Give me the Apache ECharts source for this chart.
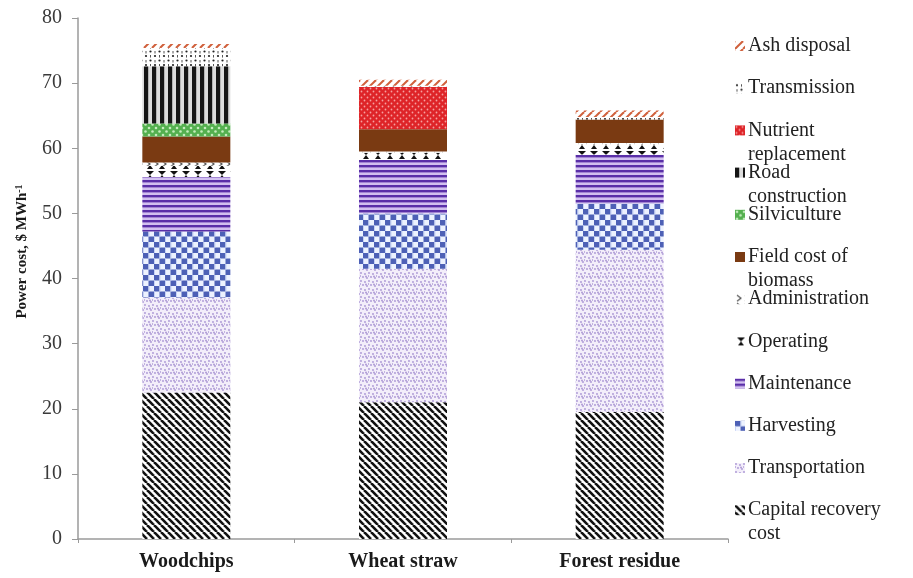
<!DOCTYPE html>
<html><head><meta charset="utf-8">
<script src="https://cdn.jsdelivr.net/npm/echarts@6/dist/echarts.min.js"></script>
<style>html,body{margin:0;padding:0;background:#fff}#c{width:913px;height:578px}</style>
</head><body><div id="c"></div>
<script>
// ---- data ----
var categories = ['Woodchips', 'Wheat straw', 'Forest residue'];
var capitalRecovery = [22.5, 21.0, 19.5];
var transportation  = [14.6, 20.5, 24.9];
var harvesting      = [10.1, 8.5, 7.1];
var maintenance     = [8.4, 8.2, 7.5];
var operating       = [1.7, 1.1, 1.6];
var administration  = [0.5, 0.2, 0.2];
var fieldCost       = [4.0, 3.4, 3.6];
var silviculture    = [2.0, 0, 0];
var roadConstruction= [8.8, 0, 0];
var nutrient        = [0, 6.5, 0];
var transmission    = [2.8, 0.2, 0.4];
var ashDisposal     = [0.6, 0.9, 1.0];
var yTicks = [0, 10, 20, 30, 40, 50, 60, 70, 80];

var seriesNames = ['Capital recovery cost', 'Transportation', 'Harvesting', 'Maintenance', 'Operating',
  'Administration', 'Field cost of biomass', 'Silviculture', 'Road construction',
  'Nutrient replacement', 'Transmission', 'Ash disposal'];
var seriesValues = [capitalRecovery, transportation, harvesting, maintenance, operating,
  administration, fieldCost, silviculture, roadConstruction, nutrient, transmission, ashDisposal];
var legendLabels = ['Capital recovery\ncost', 'Transportation', 'Harvesting', 'Maintenance', 'Operating',
  'Administration', 'Field cost of\nbiomass', 'Silviculture', 'Road\nconstruction',
  'Nutrient\nreplacement', 'Transmission', 'Ash disposal'];

// ---- pattern tiles ----
function tile(w, h, bg, draw) {
  var c = document.createElement('canvas'); c.width = w; c.height = h;
  var g = c.getContext('2d');
  if (bg) { g.fillStyle = bg; g.fillRect(0, 0, w, h); }
  draw(g, w, h);
  return { image: c, repeat: 'repeat' };
}
function diag(g, s, col, lw, dir) {
  g.strokeStyle = col; g.lineWidth = lw;
  for (var k = -1; k <= 1; k++) {
    g.beginPath();
    if (dir > 0) { g.moveTo(k * s, 0); g.lineTo(k * s + s, s); }
    else { g.moveTo(k * s, s); g.lineTo(k * s + s, 0); }
    g.stroke();
  }
}
function dots(g, col, pts, r) {
  g.fillStyle = col;
  pts.forEach(function (p) { g.beginPath(); g.arc(p[0], p[1], r, 0, Math.PI * 2); g.fill(); });
}
var patterns = [
  tile(7, 7, '#ffffff', function (g, w) { diag(g, w, '#111', 2.6, 1); }),
  tile(8, 8, '#f3eefa', function (g) { dots(g, '#a994d2', [[1,1],[5,2],[3,5],[7,6],[0,4],[6,4.5]], 0.9); }),
  tile(11, 11, '#edf2ff', function (g) { g.fillStyle = '#4d60b6'; g.fillRect(0,0,5.5,5.5); g.fillRect(5.5,5.5,5.5,5.5); g.fillStyle='#c7d3f5'; g.fillRect(5.5,0,1,5.5); g.fillRect(0,5.5,1,5.5); }),
  tile(8, 5, '#d2c0f0', function (g) { g.fillStyle = '#5a2fa8'; g.fillRect(0, 0, 8, 2.4); }),
  tile(12, 10, '#ffffff', function (g) { g.fillStyle = '#111'; g.beginPath(); g.moveTo(2,1); g.lineTo(10,1); g.lineTo(6,5); g.closePath(); g.fill(); g.beginPath(); g.moveTo(6,5); g.lineTo(9,9); g.lineTo(3,9); g.closePath(); g.fill(); }),
  tile(8, 8, '#ffffff', function (g) { g.strokeStyle = '#555'; g.lineWidth = 1.2; g.beginPath(); g.moveTo(2,1); g.lineTo(6,4); g.lineTo(2,7); g.stroke(); }),
  '#7a3a12',
  tile(7, 7, '#54b04f', function (g) { dots(g, '#c4ecbc', [[2,2],[5.5,5.5]], 1.3); }),
  tile(8, 8, '#dcdcdc', function (g) { g.fillStyle = '#151515'; g.fillRect(0, 0, 4.2, 8); }),
  tile(6, 6, '#de2428', function (g) { dots(g, '#f6a0a0', [[1.5,1.5],[4.5,4.5]], 0.9); }),
  tile(9, 9, '#ffffff', function (g) { dots(g, '#222', [[2,2],[6.5,6.5]], 1.1); g.fillStyle='#555'; g.fillRect(6,1,1,2.5); g.fillRect(1.5,6,1,2.5); }),
  tile(8, 8, '#ffffff', function (g, w) { diag(g, w, '#d0603c', 2, -1); })
];

var FONT = '"Liberation Serif", "Times New Roman", serif';

var series = seriesNames.map(function (n, i) {
  return {
    name: n, type: 'bar', stack: 'total', barWidth: 88,
    data: seriesValues[i],
    itemStyle: { color: patterns[i] },
    emphasis: { disabled: true }
  };
});

var legends = [];
for (var j = 0; j < seriesNames.length; j++) {
  var pos = seriesNames.length - 1 - j; // top-down position
  var yc = 46 + pos * 42.2;
  var multi = legendLabels[j].indexOf('\n') >= 0;
  legends.push({
    data: [seriesNames[j]],
    left: 735,
    top: multi ? yc - 36 : yc - 12,
    icon: 'rect', itemWidth: 10, itemHeight: 10, itemGap: 0,
    padding: 0,
    formatter: (function (lbl, m) { return function () { return m ? ' \n' + lbl : lbl; }; })(legendLabels[j], multi),
    textStyle: { fontFamily: FONT, fontSize: 20, color: '#222', lineHeight: 24, padding: [0, 0, 0, -2] },
    selectedMode: false
  });
}

var chart = echarts.init(document.getElementById('c'));
chart.setOption({
  backgroundColor: '#ffffff',
  animation: false,
  grid: { left: 78, right: 185, top: 18, bottom: 39 },
  legend: legends,
  xAxis: {
    type: 'category', data: categories,
    axisLine: { lineStyle: { color: '#9a9a9a', width: 1.5 } },
    axisTick: { show: true, length: 4, lineStyle: { color: '#9a9a9a' } },
    axisLabel: { fontFamily: FONT, fontSize: 20, fontWeight: 'bold', color: '#1a1a1a', margin: 13 }
  },
  yAxis: {
    type: 'value', min: yTicks[0], max: yTicks[yTicks.length - 1], interval: 10,
    name: 'Power cost, $ MWh{sup|-1}', nameLocation: 'middle', nameGap: 47,
    nameTextStyle: { fontFamily: FONT, fontSize: 15, fontWeight: 'bold', color: '#1a1a1a', padding: [0, 0, 0, 54],
      rich: { sup: { fontFamily: FONT, fontSize: 10, fontWeight: 'bold', color: '#1a1a1a', verticalAlign: 'top', padding: [0, 0, 7, 0] } } },
    splitLine: { show: false },
    axisLine: { show: true, lineStyle: { color: '#9a9a9a', width: 1.5 } },
    axisTick: { show: true, length: 6, lineStyle: { color: '#9a9a9a' } },
    axisLabel: { fontFamily: FONT, fontSize: 20, color: '#3a3a3a', margin: 16 }
  },
  series: series
});
</script></body></html>
